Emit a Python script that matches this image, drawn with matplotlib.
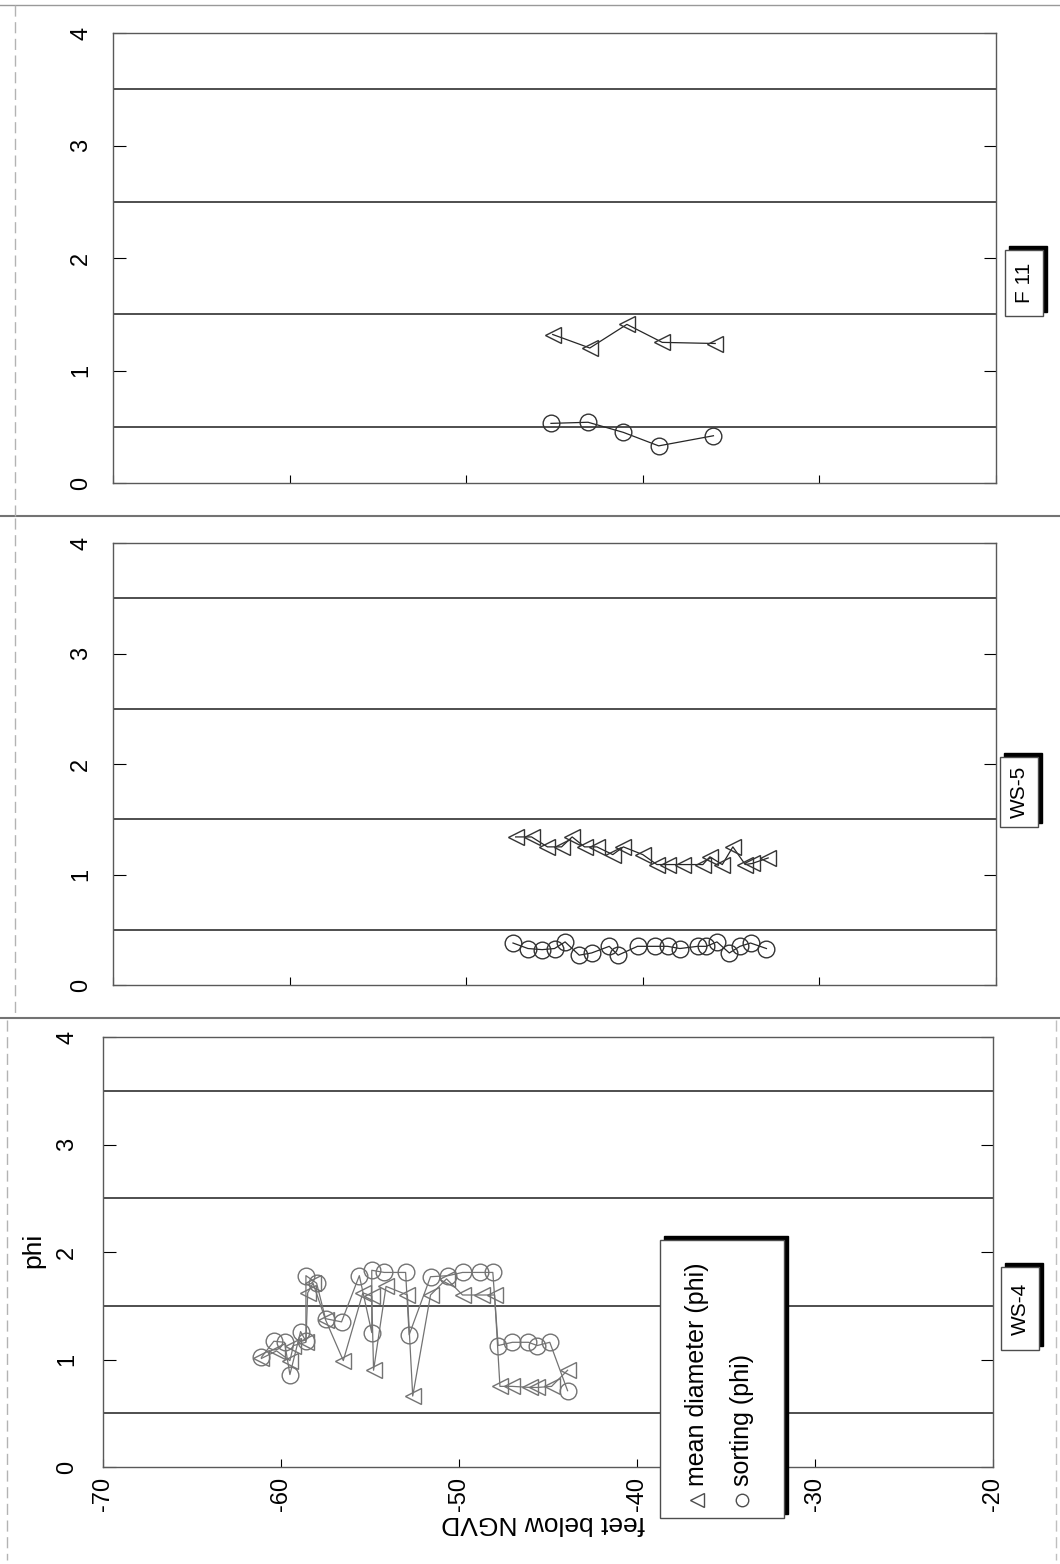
import matplotlib
matplotlib.use('Agg')
import matplotlib.pyplot as plt
from matplotlib.patches import Rectangle
from matplotlib.lines import Line2D

plt.rcParams['font.family'] = ['Liberation Sans', 'DejaVu Sans']

W, H = 1060, 1564

# ---------------- data (feet below NGVD, phi) ----------------
f11_depth = [-45.1, -43.0, -40.9, -38.9, -35.9]
f11_mean = [1.32, 1.20, 1.41, 1.25, 1.24]
f11_sort_depth = [-45.2, -43.1, -41.1, -39.1, -36.0]
f11_sort = [0.53, 0.54, 0.45, 0.33, 0.42]

ws5_mean_depth = [-47.2, -46.3, -45.4, -44.6, -44.0, -43.3, -42.6, -41.7, -41.1, -40.0,
                  -39.2, -38.6, -37.7, -36.6, -36.2, -35.5, -34.9, -34.2, -33.8, -32.9]
ws5_mean = [1.34, 1.34, 1.25, 1.25, 1.34, 1.25, 1.25, 1.18, 1.25, 1.18,
            1.09, 1.09, 1.09, 1.09, 1.16, 1.09, 1.25, 1.09, 1.10, 1.15]
ws5_sort_depth = [-47.35, -46.5, -45.7, -45.0, -44.4, -43.6, -42.9, -41.9, -41.4, -40.3,
                  -39.3, -38.6, -37.9, -36.9, -36.4, -35.8, -35.1, -34.5, -33.9, -33.0]
ws5_sort = [0.38, 0.33, 0.32, 0.33, 0.39, 0.27, 0.29, 0.35, 0.27, 0.35,
            0.35, 0.35, 0.33, 0.35, 0.35, 0.39, 0.29, 0.35, 0.38, 0.33]

ws4_mean_depth = [-61.1, -60.25, -59.5, -59.3, -58.6, -58.5, -58.2, -57.5, -56.5, -55.4,
                  -54.9, -54.8, -54.1, -52.9, -52.6, -51.6, -50.7, -49.8, -48.7, -48.0,
                  -47.7, -47.0, -46.0, -45.6, -44.8, -43.9]
ws4_mean = [1.01, 1.08, 0.99, 1.13, 1.16, 1.62, 1.71, 1.37, 0.99, 1.62,
            1.59, 0.90, 1.68, 1.60, 0.66, 1.60, 1.75, 1.60, 1.60, 1.60,
            0.75, 0.75, 0.74, 0.74, 0.75, 0.90]
ws4_sort_depth = [-61.1, -60.4, -59.8, -59.5, -58.9, -58.6, -58.6, -58.0, -57.5, -56.6,
                  -55.6, -54.9, -54.9, -54.2, -53.0, -52.8, -51.6, -50.6, -49.8, -48.8,
                  -48.1, -47.8, -47.0, -46.1, -45.6, -44.9, -43.9]
ws4_sort = [1.02, 1.17, 1.16, 0.86, 1.26, 1.17, 1.78, 1.71, 1.38, 1.35,
            1.78, 1.25, 1.83, 1.81, 1.81, 1.23, 1.77, 1.78, 1.81, 1.81,
            1.81, 1.13, 1.16, 1.16, 1.13, 1.16, 0.71]

phi_ticks = [0, 1, 2, 3, 4]
phi_grid = [0.5, 1.5, 2.5, 3.5]
depth_ticks = [-70, -60, -50, -40, -30, -20]

fig = plt.figure(figsize=(W / 100, H / 100), dpi=100)


def rect(l, t, r, b):
    return [l / W, 1 - b / H, (r - l) / W, (b - t) / H]


def fline(x0, y0, x1, y1, **kw):
    fig.add_artist(Line2D([x0 / W, x1 / W], [1 - y0 / H, 1 - y1 / H],
                          transform=fig.transFigure, **kw))


def panel(r, md, mv, sd, sv, col, lcol, bottom, pad):
    ax = fig.add_axes(rect(*r))
    ax.set_xlim(-70, -20)
    ax.set_ylim(0, 4)
    for g in phi_grid:
        ax.axhline(g, color='0.25', lw=1.3, zorder=1)
    ax.plot(md, mv, color=lcol, lw=0.9, marker='<', ms=12, mfc='none',
            mec=col, mew=1.0, zorder=3)
    ax.plot(sd, sv, color=lcol, lw=0.9, marker='o', ms=12, mfc='none',
            mec=col, mew=1.0, zorder=3)
    ax.set_yticks(phi_ticks)
    ax.set_yticklabels([str(t) for t in phi_ticks], rotation=90, va='center', fontsize=17)
    ax.set_xticks(depth_ticks)
    if bottom:
        ax.set_xticklabels([str(t) for t in depth_ticks], rotation=90, fontsize=17)
    else:
        ax.set_xticklabels([])
    ax.tick_params(axis='y', direction='in', length=9, left=True, right=True, pad=pad)
    ax.tick_params(axis='x', direction='in', length=6, bottom=True, top=False, pad=7)
    for s in ax.spines.values():
        s.set_color('0.35')
        s.set_linewidth(1.0)
    return ax


ax1 = panel((113, 33, 996, 483), f11_depth, f11_mean, f11_sort_depth, f11_sort,
            '0.2', '0.15', False, 15)
ax2 = panel((113, 543, 996, 985), ws5_mean_depth, ws5_mean, ws5_sort_depth, ws5_sort,
            '0.2', '0.15', False, 15)
ax3 = panel((103, 1037, 993, 1467), ws4_mean_depth, ws4_mean, ws4_sort_depth, ws4_sort,
            '0.45', '0.45', True, 18)

fig.text(33 / W, 1 - 1250 / H, 'phi', rotation=90, fontsize=19, ha='center', va='center')
fig.text(543 / W, 1 - 1523 / H, 'feet below NGVD', rotation=180, fontsize=19,
         ha='center', va='center')


def label_box(l, t, r, b, txt):
    fig.add_artist(Rectangle((l / W + 4 / W, 1 - b / H + 4 / H), (r - l) / W, (b - t) / H,
                             transform=fig.transFigure, facecolor='black', edgecolor='black'))
    fig.add_artist(Rectangle((l / W, 1 - b / H), (r - l) / W, (b - t) / H,
                             transform=fig.transFigure, facecolor='white', edgecolor='0.3', lw=1))
    fig.text((l + r) / 2 / W, 1 - (t + b) / 2 / H, txt, rotation=90, fontsize=15,
             ha='center', va='center')


label_box(1005, 250, 1043, 316, 'F 11')
label_box(1000, 757, 1038, 827, 'WS-5')
label_box(1001, 1267, 1039, 1350, 'WS-4')

# legend (drawn by hand so its text can run bottom-to-top)
lg_l, lg_t, lg_r, lg_b = 660, 1240, 784, 1518
fig.add_artist(Rectangle((lg_l / W + 4 / W, 1 - lg_b / H + 4 / H),
                         (lg_r - lg_l) / W, (lg_b - lg_t) / H,
                         transform=fig.transFigure, facecolor='black', edgecolor='black'))
fig.add_artist(Rectangle((lg_l / W, 1 - lg_b / H),
                         (lg_r - lg_l) / W, (lg_b - lg_t) / H,
                         transform=fig.transFigure, facecolor='white', edgecolor='0.3', lw=1))
fig.add_artist(Line2D([697 / W], [1 - 1500 / H], marker='<', ms=10, mfc='none', mec='0.3',
                      transform=fig.transFigure))
fig.add_artist(Line2D([742 / W], [1 - 1500 / H], marker='o', ms=9, mfc='none', mec='0.3',
                      transform=fig.transFigure))
fig.text(697 / W, 1 - 1486 / H, 'mean diameter (phi)', rotation=90, fontsize=18,
         ha='center', va='bottom')
fig.text(742 / W, 1 - 1486 / H, 'sorting (phi)', rotation=90, fontsize=18,
         ha='center', va='bottom')

# scanned page frames
fline(0, 5, W, 5, color='0.6', lw=1)
fline(0, 516, W, 516, color='0.45', lw=1.5)
fline(0, 1018, W, 1018, color='0.45', lw=1.5)
fline(15, 5, 15, 516, color='0.7', lw=1, ls=(0, (8, 4)))
fline(15, 518, 15, 1016, color='0.7', lw=1, ls=(0, (8, 4)))
fline(7, 1020, 7, 1560, color='0.7', lw=1, ls=(0, (8, 4)))
fline(1056, 1020, 1056, 1560, color='0.75', lw=1, ls=(0, (8, 4)))

fig.savefig('out.png', dpi=100)
